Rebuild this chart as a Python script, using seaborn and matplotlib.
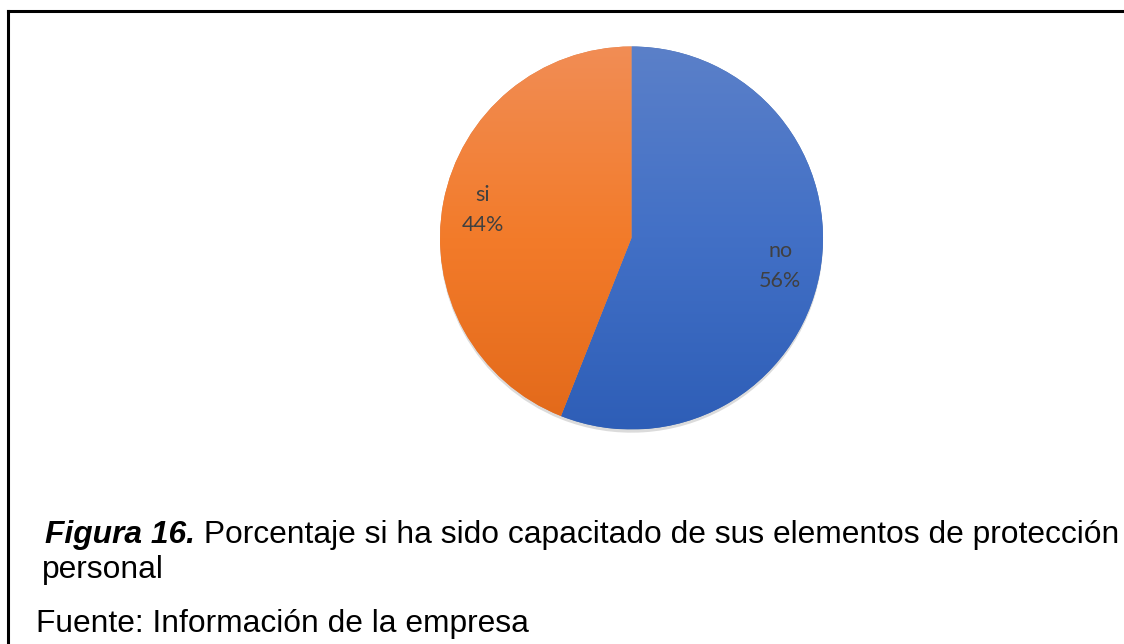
import numpy as np
import matplotlib
matplotlib.use("Agg")
import matplotlib.pyplot as plt
import seaborn as sns
from matplotlib.lines import Line2D
from matplotlib.colors import LinearSegmentedColormap

# ---- data ----
categories = ["no", "si"]
values = [56, 44]
pct_labels = ["56%", "44%"]
caption_bold = "Figura 16."
caption_rest = " Porcentaje si ha sido capacitado de sus elementos de protección"
caption_line2 = "personal"
source_text = "Fuente: Información de la empresa"

# gradient stops (top, middle, bottom) per slice
grad_colors = [
    ["#5B80C9", "#4270C6", "#2E5EB7"],
    ["#F18D55", "#F37B2A", "#E2691A"],
]

sns.set_theme(style="white")
plt.rcParams["font.family"] = ["Liberation Sans", "DejaVu Sans"]

W, H = 1124, 644
fig = plt.figure(figsize=(W / 100, H / 100), dpi=100)
fig.patch.set_facecolor("white")

# pie axes: centre (631.5, 238) px, radius 191.5 px
cx, cy, r = 631.5, 238.0, 191.5
pad = 1.06
half = r * pad
ax = fig.add_axes([(cx - half) / W, 1 - (cy + half) / H, 2 * half / W, 2 * half / H])

wedges, texts = ax.pie(
    values,
    labels=[f"{c}\n{p}" for c, p in zip(categories, pct_labels)],
    startangle=90,
    counterclock=False,
    labeldistance=0.79,
    wedgeprops=dict(linewidth=0, edgecolor="none"),
    textprops=dict(fontsize=15.5, color="#404040", family=["Lato", "DejaVu Sans"],
                   linespacing=1.62),
    shadow=dict(ox=0.0, oy=-0.012, facecolor="#9a9a9a", edgecolor="none", alpha=0.35),
)
ax.set_xlim(-pad, pad)
ax.set_ylim(-pad, pad)
ax.set_aspect("equal")
ax.axis("off")

# gradient fill clipped to each wedge
grad = np.linspace(0, 1, 256).reshape(-1, 1)
for w, cols in zip(wedges, grad_colors):
    cmap = LinearSegmentedColormap.from_list("g", cols[::-1])
    im = ax.imshow(grad, cmap=cmap, extent=(-1, 1, -1, 1), origin="lower",
                   aspect="auto", zorder=w.get_zorder() + 0.1, interpolation="bilinear")
    im.set_clip_path(w)
for t in texts:
    t.set_ha("center")
    t.set_zorder(10)

# frame lines (top and left)
ytop = 1 - 11.3 / H
xleft = 7.5 / W
fig.add_artist(Line2D([xleft, 1.0], [ytop, ytop], transform=fig.transFigure,
                      color="black", linewidth=2.2, solid_capstyle="projecting"))
fig.add_artist(Line2D([xleft, xleft], [0.0, ytop], transform=fig.transFigure,
                      color="black", linewidth=2.2, solid_capstyle="projecting"))

# caption
fs = 22.85
t1 = fig.text(45 / W, 1 - 543 / H, caption_bold, fontsize=fs, fontweight="bold",
              fontstyle="italic", color="black", va="baseline", ha="left")
fig.canvas.draw()
bb = t1.get_window_extent()
fig.text(bb.x1 / W, 1 - 543 / H, caption_rest, fontsize=fs, color="black",
         va="baseline", ha="left")
fig.text(42 / W, 1 - 578 / H, caption_line2, fontsize=fs, color="black",
         va="baseline", ha="left")
fig.text(36 / W, 1 - 632 / H, source_text, fontsize=fs, color="black",
         va="baseline", ha="left")

fig.savefig("out.png", dpi=100, facecolor="white")
